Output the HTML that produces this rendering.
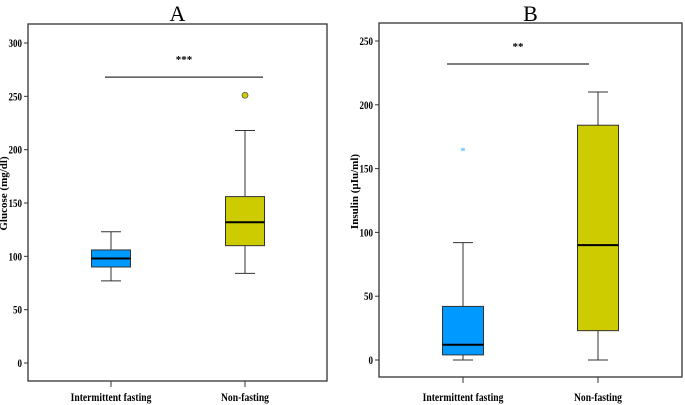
<!DOCTYPE html>
<html><head><meta charset="utf-8"><style>
html,body{margin:0;padding:0;background:#fff;width:685px;height:405px;overflow:hidden}
svg{display:block}
text{font-family:"Liberation Serif",serif}
</style></head><body>
<svg id="chart" width="685" height="405"></svg>
<script>
const categories=["Intermittent fasting","Non-fasting"];
const glucoseQ1=[90,110], glucoseMed=[98,132], glucoseQ3=[106,156], glucoseMin=[77,84], glucoseMax=[123,218];
const glucoseOutliers=[[1,251]];
const glucoseTicks=[0,50,100,150,200,250,300];
const insulinQ1=[4,23], insulinMed=[12,90], insulinQ3=[42,184], insulinMin=[0,0], insulinMax=[92,210];
const insulinOutliers=[[0,165]];
const insulinTicks=[0,50,100,150,200,250];
const colors=["#0099ff","#cccc00"];
const panels=[
 {name:"A",key:"glucose",title:"Glucose (mg/dl)",fx:28,fy:24,fw:299,fh:357,y0:363,ymaxPx:43,ymax:300,cx:[111,245],bw:39,
  q1:glucoseQ1,med:glucoseMed,q3:glucoseQ3,mn:glucoseMin,mx:glucoseMax,out:glucoseOutliers,ticks:glucoseTicks,sig:268,sigX:[105,263],star:"***",outShape:"circle"},
 {name:"B",key:"insulin",title:"Insulin (µIu/ml)",fx:379,fy:23,fw:303,fh:354,y0:360,ymaxPx:41,ymax:250,cx:[463,598],bw:41,
  q1:insulinQ1,med:insulinMed,q3:insulinQ3,mn:insulinMin,mx:insulinMax,out:insulinOutliers,ticks:insulinTicks,sig:232,sigX:[447,589],star:"**",outShape:"star"}
];
const svg=document.getElementById('chart');
const NS="http://www.w3.org/2000/svg";
function mk(tag,attrs,txt){const e=document.createElementNS(NS,tag);for(const k in attrs)e.setAttribute(k,attrs[k]);if(txt!==undefined)e.textContent=txt;svg.appendChild(e);return e;}
panels.forEach(p=>{
 const y=v=>p.y0-(v/p.ymax)*(p.y0-p.ymaxPx);
 let e=mk('text',{x:p.fx+p.fw/2,y:21,'text-anchor':'middle','font-size':22},p.name);
 
 
 e=mk('rect',{x:p.fx,y:p.fy,width:p.fw,height:p.fh,fill:'none',stroke:'#333','stroke-width':1.3});
 
 
 p.ticks.forEach(t=>{
  e=mk('line',{x1:p.fx-4,x2:p.fx,y1:y(t),y2:y(t),stroke:'#333'});
  
  
  const tx=p.fx-6, ty=y(t)+4;
  e=mk('text',{x:0,y:0,'text-anchor':'end','font-size':12,'font-weight':'bold',transform:`translate(${tx},${ty}) scale(0.75,1)`},t);
  
  
 });
 const my=(p.fy+p.y0)/2;
 e=mk('text',{x:0,y:0,'text-anchor':'middle','font-size':11,'font-weight':'bold',transform:`translate(${p.fx-21},${my}) rotate(-90)`},p.title);
 
 
 categories.forEach((c,i)=>{
  const cx=p.cx[i];
  e=mk('line',{x1:cx,x2:cx,y1:p.fy+p.fh,y2:p.fy+p.fh+6,stroke:'#333'});
  
  
  e=mk('text',{x:0,y:0,'text-anchor':'middle','font-size':12,'font-weight':'bold',transform:`translate(${cx},401) scale(0.8,1)`},c);
  
  
  e=mk('line',{x1:cx,x2:cx,y1:y(p.mx[i]),y2:y(p.mn[i]),stroke:'#333'});
  
  
  [p.mx[i],p.mn[i]].forEach((v,j)=>{
   e=mk('line',{x1:cx-10,x2:cx+10,y1:y(v),y2:y(v),stroke:'#333'});
   
   
  });
  e=mk('rect',{x:cx-p.bw/2,y:y(p.q3[i]),width:p.bw,height:y(p.q1[i])-y(p.q3[i]),fill:colors[i],stroke:'#333','stroke-width':1});
  
  
  e=mk('line',{x1:cx-p.bw/2,x2:cx+p.bw/2,y1:y(p.med[i]),y2:y(p.med[i]),stroke:'#000','stroke-width':2});
  
  
 });
 p.out.forEach(([i,v])=>{
  if(p.outShape==='circle'){
   e=mk('circle',{cx:p.cx[i],cy:y(v),r:3,fill:colors[i],stroke:'#555','stroke-width':0.8});
  } else {
   e=mk('text',{x:p.cx[i],y:y(v)+5,'text-anchor':'middle','font-size':11,fill:'#33aaff'},'*');
  }
  
  
 });
 e=mk('line',{x1:p.sigX[0],x2:p.sigX[1],y1:y(p.sig),y2:y(p.sig),stroke:'#333','stroke-width':1.2});
 
 
 e=mk('text',{x:(p.sigX[0]+p.sigX[1])/2,y:y(p.sig)-14,'text-anchor':'middle','font-size':11,'font-weight':'bold'},p.star);
 
 
});
</script>
</body></html>
